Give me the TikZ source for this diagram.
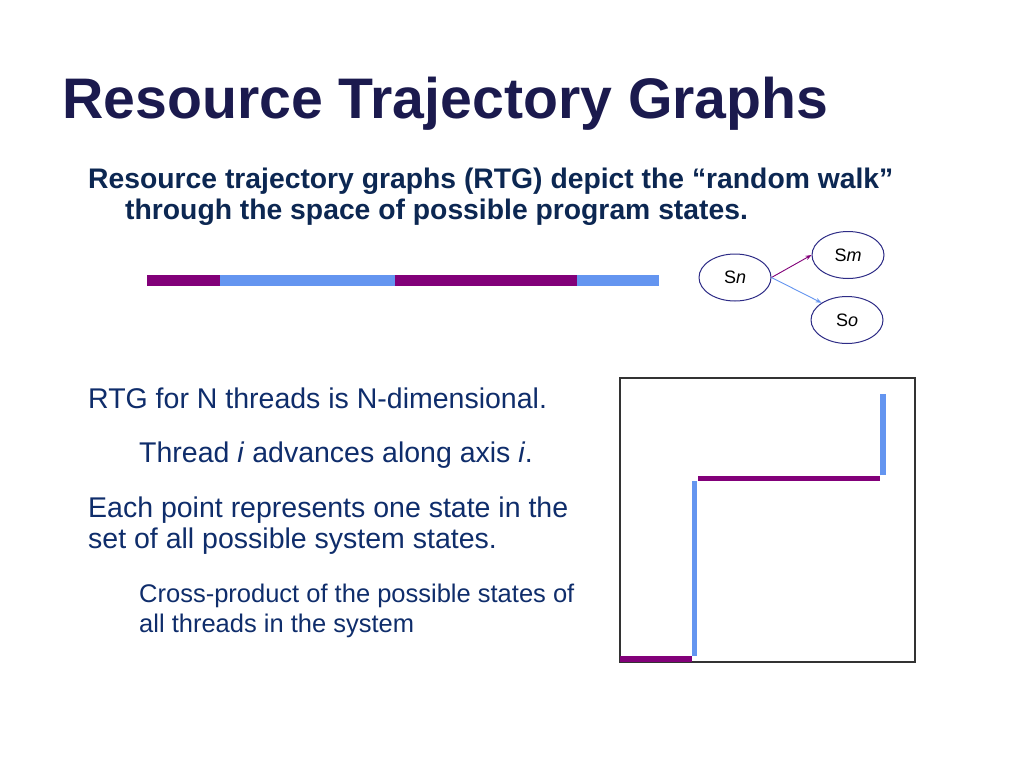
\documentclass[tikz,border=0pt]{standalone}
\usepackage{fontspec}
\setmainfont{Liberation Sans}
\usetikzlibrary{shapes.geometric,arrows.meta}
\definecolor{titlec}{HTML}{1B1A4E}
\definecolor{subc}{HTML}{0C2752}
\definecolor{bodyc}{HTML}{0F2D6B}
\definecolor{navy}{HTML}{2E2C86}
\definecolor{purp}{HTML}{820079}
\definecolor{lblue}{HTML}{6495F0}
\definecolor{boxc}{HTML}{333333}
\tikzset{
  titletext/.style={anchor=base west,inner sep=0,text=titlec,font=\fontsize{57.2}{60}\selectfont\bfseries},
  subtext/.style={anchor=base west,inner sep=0,text=subc,font=\fontsize{28.3}{32}\selectfont\bfseries},
  bodytext/.style={anchor=base west,inner sep=0,text=bodyc,font=\fontsize{28.5}{32}\selectfont},
  smalltext/.style={anchor=base west,inner sep=0,text=bodyc,font=\fontsize{25.5}{28}\selectfont},
  statenode/.style={ellipse,draw=navy,line width=1pt,inner sep=0,minimum width=72pt,minimum height=47pt,font=\fontsize{18}{18}\selectfont},
  barseg/.style={line width=11pt},
  pathseg/.style={line width=5.5pt},
  tiny arrow/.style={line width=0.9pt,-{Stealth[length=6pt,width=4.5pt]}}
}
\begin{document}
\begin{tikzpicture}[x=1pt,y=-1pt]
\useasboundingbox (0,0) rectangle (1024,768);
\fill[white] (0,0) rectangle (1024,768);
% title
\node[titletext] (title) at (62,118) {Resource Trajectory Graphs};
% subheading
\node[subtext] (sub1) at (88,188) {Resource trajectory graphs (RTG) depict the “random walk”};
\node[subtext] (sub2) at (125,219) {through the space of possible program states.};
% bar
\coordinate (b0) at (147,280.5);
\coordinate (b1) at (220,280.5);
\coordinate (b2) at (395,280.5);
\coordinate (b3) at (577,280.5);
\coordinate (b4) at (659,280.5);
\draw[barseg,purp] (b0) -- (b1);
\draw[barseg,lblue] (b1) -- (b2);
\draw[barseg,purp] (b2) -- (b3);
\draw[barseg,lblue] (b3) -- (b4);
% state nodes
\node[statenode] (sn) at (735,277.5) {S\textit{n}};
\node[statenode] (sm) at (848,255) {S\textit{m}};
\node[statenode] (so) at (847,320) {S\textit{o}};
\draw[tiny arrow,purp] (sn.east) -- (sm.west);
\draw[tiny arrow,lblue] (sn.east) -- (so.146);
% body text
\node[bodytext] (t1) at (88,408) {RTG for N threads is N-dimensional.};
\node[bodytext] (t2) at (139,462) {Thread \textit{i} advances along axis \textit{i}.};
\node[bodytext] (t3) at (88,517) {Each point represents one state in the};
\node[bodytext] (t4) at (88,548) {set of all possible system states.};
\node[smalltext] (t5) at (139,602) {Cross-product of the possible states of};
\node[smalltext] (t6) at (139,632) {all threads in the system};
% trajectory box
\draw[boxc,line width=1.5pt] (620,378) rectangle (915,662);
\coordinate (p0) at (620,659);
\coordinate (p1) at (692,659);
\coordinate (q0) at (694.5,656);
\coordinate (q1) at (694.5,481);
\coordinate (r0) at (698,478.5);
\coordinate (r1) at (880,478.5);
\coordinate (s0) at (883,475);
\coordinate (s1) at (883,394);
\draw[pathseg,purp] (p0) -- (p1);
\draw[pathseg,lblue] (q0) -- (q1);
\draw[pathseg,purp] (r0) -- (r1);
\draw[pathseg,lblue] (s0) -- (s1);
\end{tikzpicture}
\end{document}
